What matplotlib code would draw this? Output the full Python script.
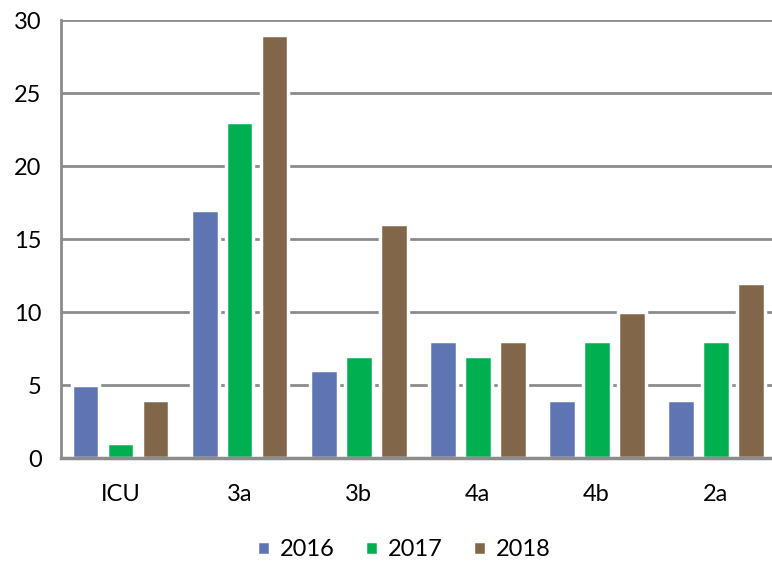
import numpy as np
import matplotlib
matplotlib.use("Agg")
import matplotlib.pyplot as plt

categories = ["ICU", "3a", "3b", "4a", "4b", "2a"]
years = ["2016", "2017", "2018"]
values_2016 = [5, 17, 6, 8, 4, 4]
values_2017 = [1, 23, 7, 7, 8, 8]
values_2018 = [4, 29, 16, 8, 10, 12]
colors = ["#5F75B3", "#00AF50", "#826649"]

plt.rcParams["font.family"] = ["Lato", "DejaVu Sans"]

fig = plt.figure(figsize=(7.72, 5.61), dpi=100)
ax = fig.add_axes([0.079, 0.1836, 0.925, 0.7807])

x = np.arange(len(categories))
width = 0.235
offset = 0.294
for i, (vals, year) in enumerate(zip([values_2016, values_2017, values_2018], years)):
    ax.bar(x + (i - 1) * offset, vals, width, color=colors[i], label=year,
           edgecolor="white", linewidth=2.5, zorder=3)

ax.set_xlim(-0.5, len(categories) - 0.5)
ax.set_ylim(0, 30)
ax.set_yticks(range(0, 31, 5))
ax.set_xticks(x)
ax.set_xticklabels(categories)
ax.yaxis.grid(True, color="#8c8c8c", linewidth=2, zorder=0)
ax.set_axisbelow(True)
for side in ["top", "right"]:
    ax.spines[side].set_visible(False)
for side in ["left", "bottom"]:
    ax.spines[side].set_color("#8c8c8c")
    ax.spines[side].set_zorder(5)
ax.spines["left"].set_linewidth(2)
ax.spines["bottom"].set_linewidth(2.5)
ax.tick_params(axis="both", length=0, labelsize=17, colors="black")
ax.tick_params(axis="y", pad=14)
ax.tick_params(axis="x", pad=19)

ax.legend(loc="center", bbox_to_anchor=(0.48, -0.21), ncol=3, frameon=False,
          fontsize=17, handlelength=0.55, handleheight=0.55, handletextpad=0.4,
          columnspacing=1.3)

fig.savefig("out.png", dpi=100)
